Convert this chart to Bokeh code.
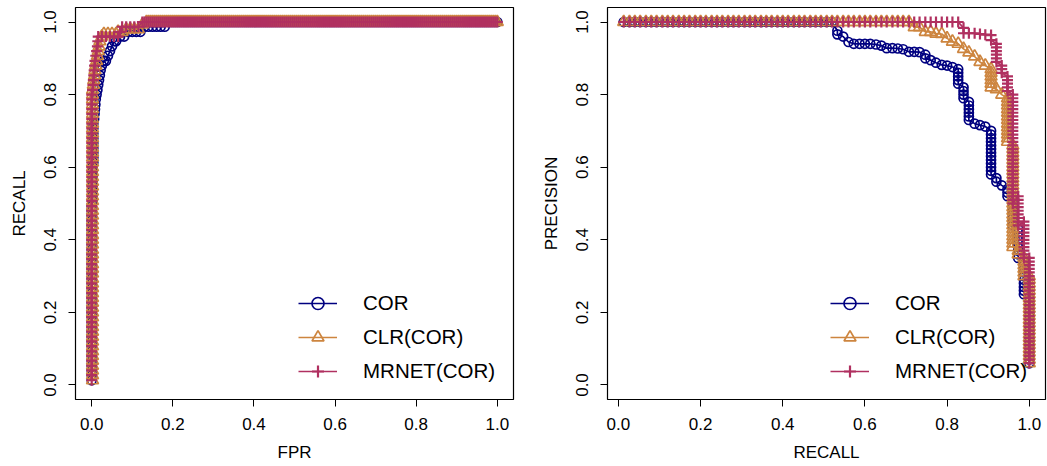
from bokeh.plotting import figure
from bokeh.models import Range1d, FixedTicker, Legend, LegendItem
from bokeh.layouts import row
from bokeh.embed import file_html
from bokeh.resources import INLINE

FONT = "Liberation Sans"
series_names = ["COR", "CLR(COR)", "MRNET(COR)"]
series_colors = ["#000080", "#CD853F", "#B03060"]
tick_values = [0.0, 0.2, 0.4, 0.6, 0.8, 1.0]
tick_labels = ["0.0", "0.2", "0.4", "0.6", "0.8", "1.0"]

# recall levels (k/75) at which the curves sit
recall_grid = [0.013, 0.027, 0.040, 0.053, 0.067, 0.080, 0.093, 0.107, 0.120, 0.133,
               0.147, 0.160, 0.173, 0.187, 0.200, 0.213, 0.227, 0.240, 0.253, 0.267,
               0.280, 0.293, 0.307, 0.320, 0.333, 0.347, 0.360, 0.373, 0.387, 0.400,
               0.413, 0.427, 0.440, 0.453, 0.467, 0.480, 0.493, 0.507, 0.520, 0.533,
               0.547, 0.560, 0.573, 0.587, 0.600, 0.613, 0.627, 0.640, 0.653, 0.667,
               0.680, 0.693, 0.707, 0.720, 0.733, 0.747, 0.760, 0.773, 0.787, 0.800,
               0.813, 0.827, 0.840, 0.853, 0.867, 0.880, 0.893, 0.907, 0.920, 0.933,
               0.947, 0.960, 0.973, 0.987, 1.000]

# FPR positions of the (dense) points on the recall = 1 plateau of the ROC curves
roc_fpr_tail = [0.125, 0.13, 0.135, 0.14, 0.145, 0.15, 0.155, 0.16, 0.165, 0.17, 0.175, 0.18, 0.185, 0.19, 0.195,
                0.20, 0.205, 0.21, 0.215, 0.22, 0.225, 0.23, 0.235, 0.24, 0.245, 0.25, 0.255, 0.26, 0.265, 0.27, 0.275, 0.28, 0.285, 0.29, 0.295,
                0.30, 0.305, 0.31, 0.315, 0.32, 0.325, 0.33, 0.335, 0.34, 0.345, 0.35, 0.355, 0.36, 0.365, 0.37, 0.375, 0.38, 0.385, 0.39, 0.395,
                0.40, 0.405, 0.41, 0.415, 0.42, 0.425, 0.43, 0.435, 0.44, 0.445, 0.45, 0.455, 0.46, 0.465, 0.47, 0.475, 0.48, 0.485, 0.49, 0.495,
                0.50, 0.505, 0.51, 0.515, 0.52, 0.525, 0.53, 0.535, 0.54, 0.545, 0.55, 0.555, 0.56, 0.565, 0.57, 0.575, 0.58, 0.585, 0.59, 0.595,
                0.60, 0.605, 0.61, 0.615, 0.62, 0.625, 0.63, 0.635, 0.64, 0.645, 0.65, 0.655, 0.66, 0.665, 0.67, 0.675, 0.68, 0.685, 0.69, 0.695,
                0.70, 0.705, 0.71, 0.715, 0.72, 0.725, 0.73, 0.735, 0.74, 0.745, 0.75, 0.755, 0.76, 0.765, 0.77, 0.775, 0.78, 0.785, 0.79, 0.795,
                0.80, 0.805, 0.81, 0.815, 0.82, 0.825, 0.83, 0.835, 0.84, 0.845, 0.85, 0.855, 0.86, 0.865, 0.87, 0.875, 0.88, 0.885, 0.89, 0.895,
                0.90, 0.905, 0.91, 0.915, 0.92, 0.925, 0.93, 0.935, 0.94, 0.945, 0.95, 0.955, 0.96, 0.965, 0.97, 0.975, 0.98, 0.985, 0.99, 0.995,
                1.0]

# ---- ROC: vertical run at a fixed FPR, then (fpr, recall) steps, then the recall=1 plateau
roc_cor_col_fpr, roc_cor_col_n, roc_cor_tail_start = 0.0, 37, 13
roc_cor_steps = [(0.002, 0.507), (0.002, 0.520), (0.002, 0.533), (0.002, 0.547), (0.002, 0.560),
                 (0.002, 0.573), (0.002, 0.587), (0.002, 0.600), (0.004, 0.613), (0.004, 0.627),
                 (0.004, 0.640), (0.004, 0.653), (0.004, 0.667), (0.004, 0.680), (0.004, 0.693),
                 (0.004, 0.707), (0.004, 0.720), (0.006, 0.733), (0.007, 0.747), (0.008, 0.760),
                 (0.009, 0.773), (0.010, 0.787), (0.012, 0.800), (0.014, 0.813), (0.016, 0.827),
                 (0.018, 0.840), (0.020, 0.853), (0.022, 0.867), (0.025, 0.880), (0.030, 0.893),
                 (0.035, 0.893), (0.040, 0.907), (0.045, 0.920), (0.050, 0.933), (0.055, 0.947),
                 (0.060, 0.947), (0.070, 0.960), (0.080, 0.960), (0.090, 0.973), (0.100, 0.973),
                 (0.110, 0.973), (0.120, 0.973), (0.130, 0.987), (0.140, 0.987), (0.150, 0.987),
                 (0.160, 0.987), (0.170, 0.987), (0.180, 0.987)]

roc_clr_col_fpr, roc_clr_col_n, roc_clr_tail_start = 0.002, 61, 2
roc_clr_steps = [(0.004, 0.827), (0.005, 0.840), (0.007, 0.853), (0.008, 0.867), (0.010, 0.880),
                 (0.012, 0.893), (0.014, 0.907), (0.016, 0.920), (0.018, 0.933), (0.020, 0.947),
                 (0.025, 0.960), (0.030, 0.967), (0.040, 0.967), (0.050, 0.967), (0.060, 0.967),
                 (0.065, 0.973), (0.075, 0.973), (0.085, 0.980), (0.095, 0.980), (0.105, 0.980),
                 (0.115, 0.980), (0.125, 0.993)]

roc_mrnet_col_fpr, roc_mrnet_col_n, roc_mrnet_tail_start = 0.0, 60, 0
roc_mrnet_steps = [(0.002, 0.813), (0.003, 0.827), (0.004, 0.840), (0.005, 0.853), (0.006, 0.867),
                   (0.007, 0.880), (0.008, 0.893), (0.010, 0.907), (0.012, 0.920), (0.014, 0.933),
                   (0.015, 0.947), (0.016, 0.960), (0.025, 0.960), (0.035, 0.960), (0.045, 0.960),
                   (0.055, 0.960), (0.065, 0.960), (0.070, 0.973), (0.075, 0.987), (0.085, 0.987),
                   (0.095, 0.987), (0.105, 0.987), (0.115, 0.987)]

# ---- PR: precision = 1 run over recall_grid[:n], then groups (recall, [precisions])
pr_cor_head_n = 39
pr_cor_groups = [(0.533, [0.976, 0.966]), (0.547, [0.960]), (0.560, [0.945]), (0.573, [0.940]),
                 (0.587, [0.940]), (0.600, [0.940]), (0.613, [0.940]), (0.627, [0.938]),
                 (0.640, [0.935]), (0.653, [0.928]), (0.667, [0.928]), (0.680, [0.927]),
                 (0.693, [0.925]), (0.707, [0.918]), (0.720, [0.918]), (0.733, [0.917]),
                 (0.747, [0.910, 0.900]), (0.760, [0.895]), (0.773, [0.888]), (0.787, [0.882]),
                 (0.800, [0.880]), (0.813, [0.876]),
                 (0.827, [0.87, 0.86, 0.85, 0.84, 0.83]),
                 (0.840, [0.82, 0.81, 0.80, 0.79]),
                 (0.853, [0.78, 0.77, 0.76, 0.75, 0.74, 0.73]),
                 (0.867, [0.720]), (0.880, [0.716]), (0.893, [0.712]),
                 (0.907, [0.70, 0.69, 0.68, 0.67, 0.66, 0.65, 0.64, 0.63, 0.62, 0.61, 0.60, 0.59, 0.58]),
                 (0.920, [0.57, 0.56]), (0.933, [0.55]), (0.947, [0.54, 0.53, 0.52]),
                 (0.960, [0.51, 0.50, 0.49, 0.48, 0.47, 0.46, 0.45, 0.44]),
                 (0.973, [0.43, 0.42, 0.41, 0.40, 0.39, 0.38, 0.37, 0.36, 0.35]),
                 (0.987, [0.34, 0.33, 0.32, 0.31, 0.30, 0.29, 0.28, 0.27, 0.26, 0.25]),
                 (1.000, [0.24, 0.23, 0.22, 0.21, 0.20, 0.19, 0.18, 0.17, 0.16, 0.15, 0.14, 0.13,
                          0.12, 0.11, 0.10, 0.09, 0.08, 0.07, 0.06])]

pr_clr_head_n = 53
pr_clr_groups = [(0.720, [0.986]), (0.733, [0.986]), (0.747, [0.973]), (0.760, [0.973]),
                 (0.773, [0.968]), (0.787, [0.967]), (0.800, [0.955]), (0.813, [0.946]),
                 (0.827, [0.940]), (0.840, [0.926]), (0.853, [0.916]), (0.867, [0.905]),
                 (0.880, [0.890]), (0.893, [0.880]),
                 (0.907, [0.87, 0.86, 0.85, 0.84, 0.83, 0.82]), (0.920, [0.815]), (0.933, [0.800]),
                 (0.947, [0.79, 0.78, 0.77, 0.76, 0.75, 0.74, 0.73, 0.72, 0.71, 0.70, 0.69, 0.68, 0.67]),
                 (0.960, [0.66, 0.65, 0.64, 0.63, 0.62, 0.61, 0.60, 0.59, 0.58, 0.57, 0.56, 0.55, 0.54,
                          0.53, 0.52, 0.51, 0.50, 0.49, 0.48, 0.47, 0.46, 0.45, 0.44, 0.43, 0.42, 0.41,
                          0.40, 0.39, 0.38]),
                 (0.973, [0.37, 0.36]),
                 (0.987, [0.35, 0.34, 0.33, 0.32, 0.31, 0.30]),
                 (1.000, [0.30, 0.29, 0.28, 0.27, 0.26, 0.25, 0.24, 0.23, 0.22, 0.21, 0.20, 0.19, 0.18,
                          0.17, 0.16, 0.15, 0.14, 0.13, 0.12, 0.11, 0.10, 0.09, 0.08, 0.07, 0.06])]

pr_mrnet_head_n = 62
pr_mrnet_groups = [(0.840, [0.984, 0.969]), (0.853, [0.969]), (0.867, [0.969]), (0.880, [0.967]),
                   (0.893, [0.965]), (0.907, [0.964, 0.950]),
                   (0.920, [0.94, 0.93, 0.92, 0.91, 0.90, 0.89]),
                   (0.933, [0.88, 0.87, 0.86]),
                   (0.947, [0.85, 0.84, 0.83, 0.82, 0.81]),
                   (0.960, [0.80, 0.79, 0.78, 0.77, 0.76, 0.75, 0.74, 0.73, 0.72, 0.71, 0.70, 0.69, 0.68,
                            0.67, 0.66, 0.65, 0.64, 0.63, 0.62, 0.61, 0.60, 0.59, 0.58, 0.57, 0.56, 0.55,
                            0.54, 0.53, 0.52, 0.51, 0.50]),
                   (0.973, [0.52, 0.51, 0.50, 0.49, 0.48, 0.47, 0.46, 0.45, 0.44]),
                   (0.987, [0.45, 0.44, 0.43, 0.42, 0.41, 0.40, 0.39, 0.38, 0.37, 0.36, 0.35]),
                   (1.000, [0.35, 0.34, 0.33, 0.32, 0.31, 0.30, 0.29, 0.28, 0.27, 0.26, 0.25, 0.24, 0.23,
                            0.22, 0.21, 0.20, 0.19, 0.18, 0.17, 0.16, 0.15, 0.14, 0.13, 0.12, 0.11, 0.10,
                            0.09, 0.08, 0.07, 0.06])]


def roc_points(col_fpr, col_n, steps, tail_start):
    ys = list(recall_grid[:col_n])
    xs = [col_fpr for _ in ys]
    for f, r in steps:
        xs.append(f)
        ys.append(r)
    for f in roc_fpr_tail[tail_start:]:
        xs.append(f)
        ys.append(1.0)
    return xs, ys


def pr_points(head_n, groups):
    xs = list(recall_grid[:head_n])
    ys = [1.0 for _ in xs]
    for r, ps in groups:
        for p in ps:
            xs.append(r)
            ys.append(p)
    return xs, ys


roc_data = [roc_points(roc_cor_col_fpr, roc_cor_col_n, roc_cor_steps, roc_cor_tail_start),
            roc_points(roc_clr_col_fpr, roc_clr_col_n, roc_clr_steps, roc_clr_tail_start),
            roc_points(roc_mrnet_col_fpr, roc_mrnet_col_n, roc_mrnet_steps, roc_mrnet_tail_start)]
pr_data = [pr_points(pr_cor_head_n, pr_cor_groups),
           pr_points(pr_clr_head_n, pr_clr_groups),
           pr_points(pr_mrnet_head_n, pr_mrnet_groups)]

marker_styles = [dict(marker="circle", size=9, line_width=1.7),
                 dict(marker="triangle", size=12, line_width=1.7),
                 dict(marker="cross", size=11, line_width=2.2)]


def make_panel(width, border_left, border_right, x_range, xlabel, ylabel, data):
    p = figure(width=width, height=466, output_backend="svg", toolbar_location=None,
               x_range=x_range, y_range=Range1d(-0.04, 1.04),
               min_border_left=border_left, min_border_right=border_right,
               min_border_top=7, min_border_bottom=67)
    p.xgrid.visible = False
    p.ygrid.visible = False
    p.outline_line_color = "black"
    p.outline_line_width = 1.2
    p.outline_line_alpha = 1.0
    p.background_fill_color = "white"
    p.border_fill_color = "white"
    p.xaxis.axis_label = xlabel
    p.yaxis.axis_label = ylabel
    for ax in (p.xaxis[0], p.yaxis[0]):
        ax.ticker = FixedTicker(ticks=tick_values)
        ax.major_label_overrides = dict(zip(tick_values, tick_labels))
        ax.minor_tick_line_color = None
        ax.major_tick_in = 0
        ax.major_tick_out = 7
        ax.major_tick_line_color = "black"
        ax.major_tick_line_width = 1
        ax.axis_line_color = None
        ax.major_label_text_font = FONT
        ax.major_label_text_font_size = "17px"
        ax.major_label_text_color = "black"
        ax.axis_label_text_font = FONT
        ax.axis_label_text_font_size = "17px"
        ax.axis_label_text_font_style = "normal"
        ax.axis_label_text_color = "black"
    p.xaxis.major_label_standoff = 11
    p.xaxis.axis_label_standoff = 10
    p.yaxis.major_label_standoff = 12
    p.yaxis.axis_label_standoff = 13
    p.yaxis.major_label_orientation = "vertical"

    items = []
    for (xs, ys), name, color, ms in zip(data, series_names, series_colors, marker_styles):
        ln = p.line(xs, ys, line_color=color, line_width=1.7)
        sc = p.scatter(xs, ys, marker=ms["marker"], size=ms["size"], fill_color=None,
                       line_color=color, line_width=ms["line_width"])
        items.append(LegendItem(label=name, renderers=[ln, sc]))
    legend = Legend(items=items, location=(223, 13), glyph_width=39, glyph_height=30,
                    label_height=30, spacing=4, padding=0, margin=0, label_standoff=26,
                    label_text_font=FONT, label_text_font_size="20.5px",
                    label_text_color="black", border_line_color=None,
                    background_fill_alpha=0)
    p.add_layout(legend)
    return p


p1 = make_panel(523, 75, 10, Range1d(-0.04, 1.04), "FPR", "RECALL", roc_data)
p2 = make_panel(524, 84, 2, Range1d(-0.0265, 1.0395), "RECALL", "PRECISION", pr_data)

layout = row(p1, p2)
open("out.html", "w").write(file_html(layout, INLINE))
